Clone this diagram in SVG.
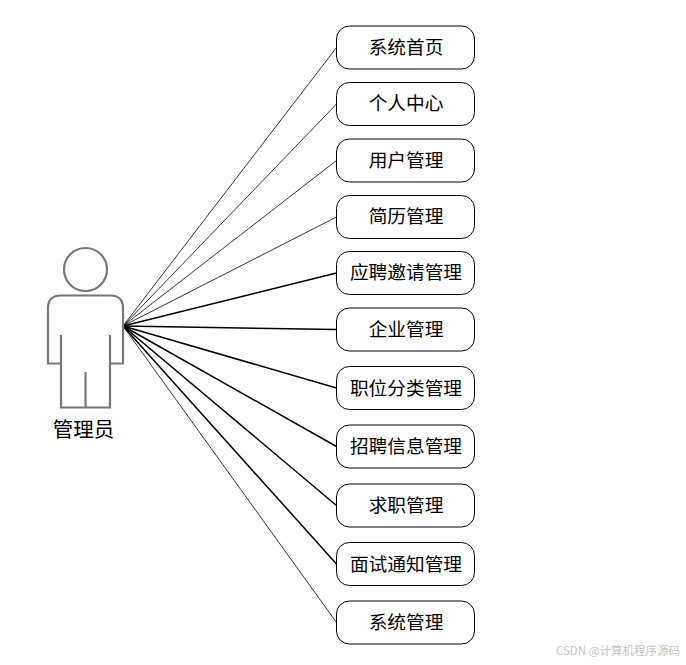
<svg xmlns="http://www.w3.org/2000/svg" width="686" height="665" viewBox="0 0 686 665">
<style>
text{font-family:"Noto Sans CJK SC","Liberation Sans",sans-serif;fill:#000;text-anchor:middle}
.n rect{fill:#fff;stroke:#000;stroke-width:1}
.n text{font-size:18.7px}
#connectors line{stroke:#000;stroke-width:.8}
#connectors line.b{stroke-width:1.5}
#actor path,#actor circle{fill:none;stroke:#777;stroke-width:2.2}
</style>
<rect width="686" height="665" fill="#fff"/>
<g id="connectors">
<line x1="123" y1="326" x2="336.500" y2="47.500"/>
<line x1="123" y1="326" x2="336.500" y2="104"/>
<line x1="123" y1="326" x2="336.500" y2="160.500"/>
<line x1="123" y1="326" x2="336.500" y2="217"/>
<line class="b" x1="123" y1="326" x2="336.500" y2="273"/>
<line class="b" x1="123" y1="326" x2="336.500" y2="329.500"/>
<line class="b" x1="123" y1="326" x2="336.500" y2="388"/>
<line class="b" x1="123" y1="326" x2="336.500" y2="446.500"/>
<line class="b" x1="123" y1="326" x2="336.500" y2="505.500"/>
<line class="b" x1="123" y1="326" x2="336.500" y2="564"/>
<line x1="123" y1="326" x2="336.500" y2="622.500"/>
</g>
<g id="actor">
<circle cx="85.500" cy="269.500" r="21.500"/>
<path d="M61 363.500H48V308Q48 295.500 61 295.500H110Q123 295.500 123 308V363.500H110M61 335V407.500H110V335M85.500 372V407.500"/>
<text x="83.500" y="437" font-size="20.500">管理员</text>
</g>
<g id="n1" class="n"><rect x="336.500" y="26" width="138" height="43" rx="13"/><text x="406" y="54">系统首页</text></g>
<g id="n2" class="n"><rect x="336.500" y="82.500" width="138" height="43" rx="13"/><text x="406" y="110">个人中心</text></g>
<g id="n3" class="n"><rect x="336.500" y="139" width="138" height="43" rx="13"/><text x="406" y="167">用户管理</text></g>
<g id="n4" class="n"><rect x="336.500" y="195.500" width="138" height="43" rx="13"/><text x="406" y="223">简历管理</text></g>
<g id="n5" class="n"><rect x="336.500" y="251.500" width="138" height="43" rx="13"/><text x="406" y="279">应聘邀请管理</text></g>
<g id="n6" class="n"><rect x="336.500" y="308" width="138" height="43" rx="13"/><text x="406" y="336">企业管理</text></g>
<g id="n7" class="n"><rect x="336.500" y="366.500" width="138" height="43" rx="13"/><text x="406" y="394.500">职位分类管理</text></g>
<g id="n8" class="n"><rect x="336.500" y="425" width="138" height="43" rx="13"/><text x="406" y="453">招聘信息管理</text></g>
<g id="n9" class="n"><rect x="336.500" y="484" width="138" height="43" rx="13"/><text x="406" y="512">求职管理</text></g>
<g id="n10" class="n"><rect x="336.500" y="542.500" width="138" height="43" rx="13"/><text x="406" y="570.500">面试通知管理</text></g>
<g id="n11" class="n"><rect x="336.500" y="601" width="138" height="43" rx="13"/><text x="406" y="629">系统管理</text></g>
<text x="618" y="655" font-size="11.500" style="fill:#c4c4c4">CSDN @计算机程序源码</text>
</svg>
